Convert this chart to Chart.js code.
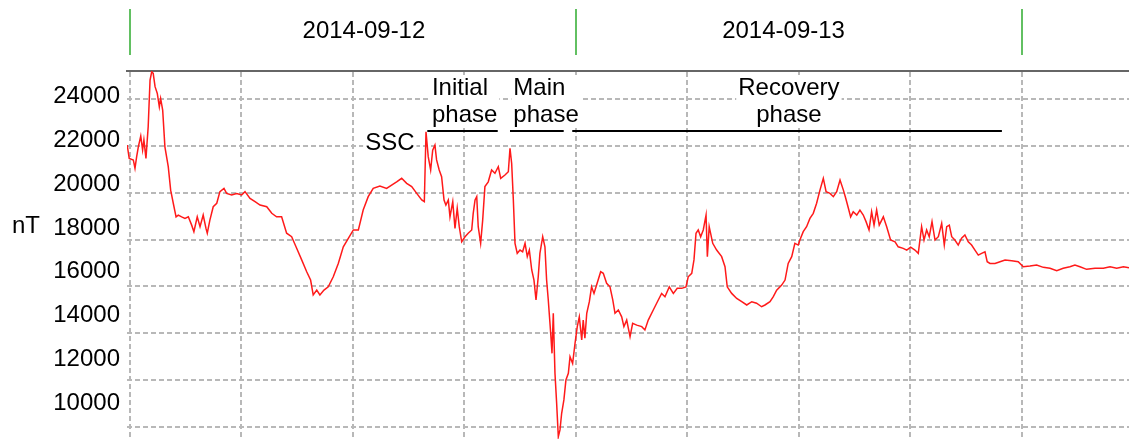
<!DOCTYPE html>
<html>
<head>
<meta charset="utf-8">
<script src="https://cdn.jsdelivr.net/npm/chart.js@4.4.1/dist/chart.umd.min.js"></script>
<style>
  html, body { margin: 0; padding: 0; background: #fff; }
  #wrap { width: 1129px; height: 439px; }
</style>
</head>
<body>
<div id="wrap"><canvas id="storm" width="1129" height="439"></canvas></div>
<script>
// Hours since 2014-09-12 00:00 and field value (nT)
const hours = [
  -0.15, -0.04, 0.18, 0.27, 0.36, 0.45, 0.58, 0.68, 0.75, 0.86,
  0.98, 1.08, 1.17, 1.25, 1.35, 1.47, 1.58, 1.65, 1.76, 1.88,
  2.06, 2.19, 2.33, 2.48, 2.60, 2.78, 2.96, 3.14, 3.32, 3.44,
  3.62, 3.77, 3.94, 4.09, 4.16, 4.30, 4.48, 4.67, 4.84, 5.06,
  5.20, 5.47, 5.74, 6.01, 6.19, 6.46, 6.73, 7.00, 7.36, 7.63,
  7.89, 8.16, 8.43, 8.70, 8.97, 9.24, 9.51, 9.72, 9.86, 10.05,
  10.22, 10.44, 10.67, 10.94, 11.21, 11.48, 11.75, 12.02, 12.29, 12.55,
  12.82, 13.09, 13.45, 13.81, 14.08, 14.35, 14.62, 14.89, 15.16, 15.43,
  15.70, 15.84, 15.93, 16.05, 16.18, 16.29, 16.41, 16.50, 16.64, 16.77,
  16.90, 17.00, 17.13, 17.22, 17.37, 17.49, 17.61, 17.72, 17.85, 18.03,
  18.20, 18.39, 18.47, 18.57, 18.66, 18.74, 18.87, 18.98, 19.10, 19.28,
  19.46, 19.64, 19.82, 19.95, 20.18, 20.36, 20.45, 20.54, 20.63, 20.72,
  20.84, 20.99, 21.13, 21.26, 21.38, 21.49, 21.62, 21.74, 21.85, 21.97,
  22.06, 22.21, 22.33, 22.42, 22.51, 22.64, 22.71, 22.78, 22.87, 22.96,
  23.05, 23.14, 23.23, 23.35, 23.46, 23.59, 23.68, 23.82, 23.95, 24.07,
  24.18, 24.31, 24.39, 24.48, 24.58, 24.72, 24.84, 24.97, 25.11, 25.33,
  25.47, 25.65, 25.83, 25.98, 26.10, 26.28, 26.46, 26.58, 26.73, 26.91,
  27.05, 27.27, 27.54, 27.71, 27.89, 28.16, 28.43, 28.61, 28.79, 29.02,
  29.24, 29.45, 29.69, 29.92, 30.04, 30.23, 30.35, 30.46, 30.58, 30.71,
  30.85, 31.00, 31.07, 31.17, 31.36, 31.57, 31.84, 32.02, 32.14, 32.38,
  32.65, 32.92, 33.19, 33.46, 33.72, 33.99, 34.17, 34.44, 34.62, 34.80,
  35.07, 35.25, 35.42, 35.61, 35.78, 35.96, 36.05, 36.23, 36.41, 36.59,
  36.77, 36.95, 37.13, 37.31, 37.46, 37.67, 37.85, 38.03, 38.21, 38.39,
  38.52, 38.66, 38.78, 38.92, 39.11, 39.28, 39.46, 39.61, 39.77, 39.91,
  40.04, 40.18, 40.32, 40.54, 40.72, 40.93, 41.17, 41.34, 41.61, 41.80,
  42.01, 42.24, 42.42, 42.60, 42.73, 42.87, 43.01, 43.16, 43.32, 43.50,
  43.68, 43.82, 43.95, 44.09, 44.22, 44.39, 44.57, 44.75, 44.93, 45.11,
  45.29, 45.47, 45.65, 45.83, 46.01, 46.13, 46.28, 46.55, 46.82, 47.09,
  47.45, 47.80, 48.07, 48.43, 48.79, 49.15, 49.51, 49.87, 50.22, 50.58,
  50.85, 51.12, 51.48, 51.93, 52.38, 52.74, 53.10, 53.46, 53.76
];
const fieldNT = [
  21790, 21180, 21110, 20730, 21260, 21710, 22200, 21560, 22020, 21180,
  22630, 24760, 25140, 25070, 24460, 24150, 23540, 23920, 23390, 21710,
  20800, 19730, 19130, 18510, 18590, 18510, 18440, 18510, 18130, 17830,
  18510, 18060, 18590, 17980, 17760, 18360, 18970, 19130, 19660, 19810,
  19580, 19510, 19580, 19510, 19660, 19350, 19200, 19050, 18970, 18670,
  18510, 18510, 17760, 17600, 17070, 16540, 16000, 15620, 14940, 15160,
  14940, 15160, 15310, 15770, 16380, 17140, 17530, 17910, 17910, 18820,
  19430, 19810, 19920, 19810, 19960, 20110, 20270, 20040, 19890, 19580,
  19280, 19200, 22400, 21260, 20650, 21560, 21790, 21110, 20650, 20340,
  19280, 19050, 19280, 18510, 19200, 17980, 18900, 18060, 17370, 17600,
  17760, 17910, 18670, 19280, 19430, 18060, 17300, 18360, 19890, 20110,
  20650, 20500, 20800, 20270, 20420, 20570, 21640, 20950, 19280, 17300,
  16840, 16990, 16910, 17300, 16690, 16990, 16080, 15620, 14710, 15770,
  16840, 17600, 17140, 15620, 14710, 13190, 12270, 14100, 11360, 9990,
  8460, 8770, 9530, 10140, 11050, 11360, 12120, 11810, 12730, 13490,
  13940, 12880, 13790, 12960, 14100, 14630, 15310, 15010, 15390, 16000,
  15930, 15470, 15310, 14710, 14100, 14250, 13940, 13490, 13790, 13030,
  13640, 13560, 13490, 13340, 13790, 14250, 14710, 15010, 14860, 15310,
  15010, 15240, 15240, 15310, 15770, 15930, 16540, 17760, 17910, 17600,
  17910, 18590, 16690, 18060, 17300, 16990, 16690, 16230, 15310, 15010,
  14780, 14630, 14480, 14630, 14560, 14400, 14480, 14630, 14860, 15160,
  15390, 15620, 16380, 16690, 17300, 17220, 17450, 17830, 18060, 18440,
  18670, 19130, 19730, 20270, 19660, 19580, 19430, 19660, 20190, 19730,
  19350, 18900, 18510, 18740, 18590, 18820, 18590, 18290, 17910, 18740,
  18130, 18820, 18130, 18510, 18060, 17450, 17370, 17140, 17070, 16990,
  17120, 16990, 16840, 18060, 17450, 17910, 17600, 18290, 17450, 17600,
  18210, 17220, 18060, 18130, 17600, 17450, 17220, 17530, 17680, 17370,
  17220, 16990, 16760, 16840, 16910, 16460, 16380, 16380, 16460, 16540,
  16500, 16460, 16230, 16260, 16310, 16200, 16160, 16050, 16160, 16230,
  16310, 16230, 16110, 16160, 16160, 16230, 16160, 16230, 16180
];

const yTickValues = [10000, 12000, 14000, 16000, 18000, 20000, 22000, 24000];
const gridHours = [0, 6, 12, 18, 24, 30, 36, 42, 48];
const dayStartHours = [0, 24, 48];
const dayLabels = ['2014-09-12', '2014-09-13'];
const dayLabelHours = [12.59, 35.17];

// storm phases: label lines, bar start/end (hours)
const phaseNames = [['Initial', 'phase'], ['Main', 'phase'], ['Recovery', 'phase']];
const phaseStart = [16.0, 20.45, 23.80];
const phaseEnd = [19.79, 23.34, 46.92];
const phaseLabelHour = [16.25, 20.63, 35.46];
const sscLabelHour = 15.31;

const FONT = '24px "Liberation Sans", Arial, sans-serif';

// Draws the date band, phase labels and underlines, SSC and the unit
const annotations = {
    id: 'annotations',
    beforeDatasetsDraw(chart) {
        const { ctx, scales: { x } } = chart;
        ctx.save();
        ctx.font = FONT;
        ctx.textBaseline = 'alphabetic';

        const boxed = (lines, px, align, baseY) => {
            const w = Math.max(...lines.map(l => ctx.measureText(l).width));
            const left = align === 'left' ? px : align === 'right' ? px - w : px - w / 2;
            ctx.fillStyle = '#fff';
            ctx.fillRect(left - 2, baseY - 20, w + 4, (lines.length - 1) * 27 + 26);
            ctx.fillStyle = '#000';
            ctx.textAlign = align;
            lines.forEach((l, i) => ctx.fillText(l, px, baseY + i * 27));
        };

        // phases
        const aligns = ['left', 'left', 'center'];
        phaseNames.forEach((lines, i) => {
            boxed(lines, x.getPixelForValue(phaseLabelHour[i]), aligns[i], 95);
            ctx.fillStyle = '#000';
            const x0 = x.getPixelForValue(phaseStart[i]);
            const x1 = x.getPixelForValue(phaseEnd[i]);
            ctx.fillRect(x0, 130, x1 - x0, 2);
        });

        boxed(['SSC'], x.getPixelForValue(sscLabelHour), 'right', 150);

        // unit
        ctx.fillStyle = '#000';
        ctx.textAlign = 'left';
        ctx.fillText('nT', 12, 233);

        // date band
        ctx.strokeStyle = '#62c062';
        ctx.lineWidth = 2;
        dayStartHours.forEach(h => {
            const px = Math.round(x.getPixelForValue(h));
            ctx.beginPath();
            ctx.moveTo(px, 9);
            ctx.lineTo(px, 55);
            ctx.stroke();
        });
        ctx.textAlign = 'center';
        dayLabels.forEach((d, i) => ctx.fillText(d, x.getPixelForValue(dayLabelHours[i]), 37.5));

        ctx.restore();
    }
};

// no extra room for the end labels: the plot runs to the canvas edge
const noEdgePadding = s => {
    s.paddingTop = 0;
    s.paddingBottom = 0;
    s.paddingLeft = 0;
    s.paddingRight = 0;
};

Chart.defaults.font.family = '"Liberation Sans", Arial, sans-serif';
Chart.defaults.font.size = 24;
Chart.defaults.color = '#000';

new Chart(document.getElementById('storm'), {
    type: 'line',
    data: {
        datasets: [{
            data: hours.map((h, i) => ({ x: h, y: fieldNT[i] })),
            borderColor: '#ff1a1a',
            borderWidth: 1.5,
            pointRadius: 0,
            tension: 0,
            fill: false
        }]
    },
    options: {
        responsive: false,
        animation: false,
        devicePixelRatio: 1,
        layout: { padding: { top: 71, left: 0, right: 0, bottom: 0 } },
        plugins: {
            legend: { display: false },
            tooltip: { enabled: false }
        },
        scales: {
            x: {
                type: 'linear',
                position: 'top',
                min: -0.16,
                max: 53.76,
                afterBuildTicks: s => { s.ticks = gridHours.map(v => ({ value: v })); },
                afterFit: s => { s.height = 0; noEdgePadding(s); },
                ticks: { display: false },
                grid: { color: '#b8b8b8', lineWidth: 2, drawTicks: false },
                border: { display: true, color: '#666', width: 2, dash: [5, 3] }
            },
            y: {
                type: 'linear',
                position: 'left',
                min: 8355,
                max: 25175,
                afterBuildTicks: s => { s.ticks = yTickValues.map(v => ({ value: v })); },
                afterFit: s => { s.width = 127; noEdgePadding(s); },
                ticks: { padding: 7, callback: v => String(v) },
                grid: { display: false, drawTicks: false },
                border: { display: false }
            },
            yGrid: {
                type: 'linear',
                position: 'left',
                min: -0.263,
                max: 7.605,
                afterBuildTicks: s => { s.ticks = [0, 1, 2, 3, 4, 5, 6, 7].map(v => ({ value: v })); },
                afterFit: s => { s.width = 0; noEdgePadding(s); },
                ticks: { display: false },
                grid: { color: '#b8b8b8', lineWidth: 2, drawTicks: false },
                border: { display: false, dash: [5, 3] }
            }
        }
    },
    plugins: [annotations]
});
</script>
</body>
</html>
